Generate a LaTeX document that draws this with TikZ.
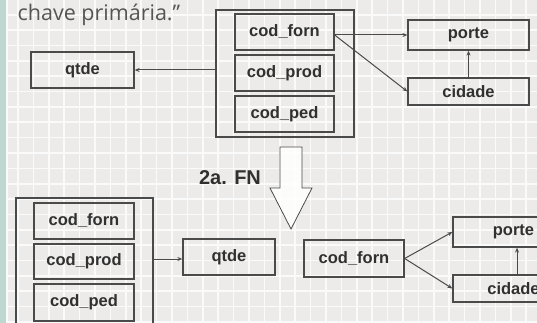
\documentclass[tikz,border=0pt]{standalone}
\usepackage{fontspec}
\setmainfont{Liberation Sans}
\newfontfamily\topfont{Open Sans}
\usetikzlibrary{arrows.meta}
\definecolor{bgcell}{HTML}{ECEBEA}
\definecolor{gridw}{HTML}{FAFAFA}
\definecolor{strip}{HTML}{BCD8D1}
\definecolor{boxline}{HTML}{4A4A4A}
\definecolor{txt}{HTML}{303030}
\definecolor{toptxt}{HTML}{555555}
\tikzset{
  box/.style={draw=boxline, line width=1.3pt, fill=none, text=txt,
    font=\fontsize{16.5}{18}\selectfont\bfseries, inner sep=0pt},
  frame/.style={draw=boxline, line width=1.3pt, inner sep=0pt},
  conn/.style={draw=boxline, line width=1pt, -{Stealth[length=5pt,width=4pt]}},
  gridline/.style={draw=gridw, line width=1.7pt}
}
\begin{document}
\begin{tikzpicture}[x=1pt,y=-1pt]
\useasboundingbox (0,0) rectangle (537,323);
\begin{scope}
\clip (0,0) rectangle (537,323);
\fill[bgcell] (0,0) rectangle (537,323);
\foreach \k in {1,...,34} \draw[gridline] ({2.6+15.4*\k},0) -- ({2.6+15.4*\k},323);
\foreach \k in {1,...,21} \draw[gridline] (0,{-0.5+15.35*\k}) -- (537,{-0.5+15.35*\k});
\fill[strip] (0,0) rectangle (6.3,323);
\draw[gridline] (7,0) -- (7,323);

\node[anchor=base west, text=toptxt, font=\topfont\fontsize{21.5}{24}\selectfont, inner sep=0pt] (t) at (17.5,20.5) {chave primária.”};

% top part
\node[box, minimum width=103pt, minimum height=36pt] (qtde1) at (82.5,70) {qtde};
\node[frame, minimum width=138pt, minimum height=127pt] (outer1) at (285,73.5) {};
\node[box, minimum width=99pt, minimum height=36pt] (forn1) at (284.5,32) {cod\_forn};
\node[box, minimum width=99pt, minimum height=36pt] (prod1) at (284.5,73) {cod\_prod};
\node[box, minimum width=99pt, minimum height=36pt] (ped1) at (284.5,114) {cod\_ped};
\node[box, minimum width=121pt, minimum height=30pt] (porte1) at (468.5,35) {porte};
\node[box, minimum width=121pt, minimum height=27pt] (cidade1) at (468.5,91.5) {cidade};
\coordinate (f1) at ([yshift=-3pt]forn1.east);
\draw[conn] (outer1.west |- qtde1.east) -- (qtde1.east);
\draw[conn] (f1) -- (f1 -| porte1.west);
\draw[conn] (f1) -- (cidade1.west);
\draw[conn] (cidade1.north) -- (porte1.south);

% block arrow
\draw[draw=boxline, line width=0.8pt, fill=white, fill opacity=0.85] (280,147) -- (302,147) -- (302,188) -- (312,188) -- (291,229) -- (270,188) -- (280,188) -- cycle;
\node[text=txt, font=\fontsize{20}{22}\selectfont\bfseries, inner sep=0pt] (fn) at (230,177.5) {2a. FN};

% bottom part
\node[frame, minimum width=137pt, minimum height=128pt] (outer2) at (84.5,262) {};
\node[box, minimum width=100pt, minimum height=36pt] (forn2) at (84,221) {cod\_forn};
\node[box, minimum width=100pt, minimum height=35pt] (prod2) at (84,261.5) {cod\_prod};
\node[box, minimum width=100pt, minimum height=37pt] (ped2) at (84,302.5) {cod\_ped};
\node[box, minimum width=92pt, minimum height=36pt] (qtde2) at (229,257) {qtde};
\draw[conn] (outer2.east |- 0,259) -- (qtde2.west |- 0,259);
\node[box, minimum width=100pt, minimum height=37pt] (forn3) at (354,258.5) {cod\_forn};
\node[box, minimum width=121pt, minimum height=30pt] (porte2) at (513.5,232) {porte};
\node[box, minimum width=121pt, minimum height=27pt] (cidade2) at (513.5,288.5) {cidade};
\draw[conn] (forn3.east) -- (porte2.west);
\draw[conn] (forn3.east) -- (cidade2.west);
\draw[conn] (cidade2.north -| 517,0) -- (porte2.south -| 517,0);
\end{scope}
\end{tikzpicture}
\end{document}
